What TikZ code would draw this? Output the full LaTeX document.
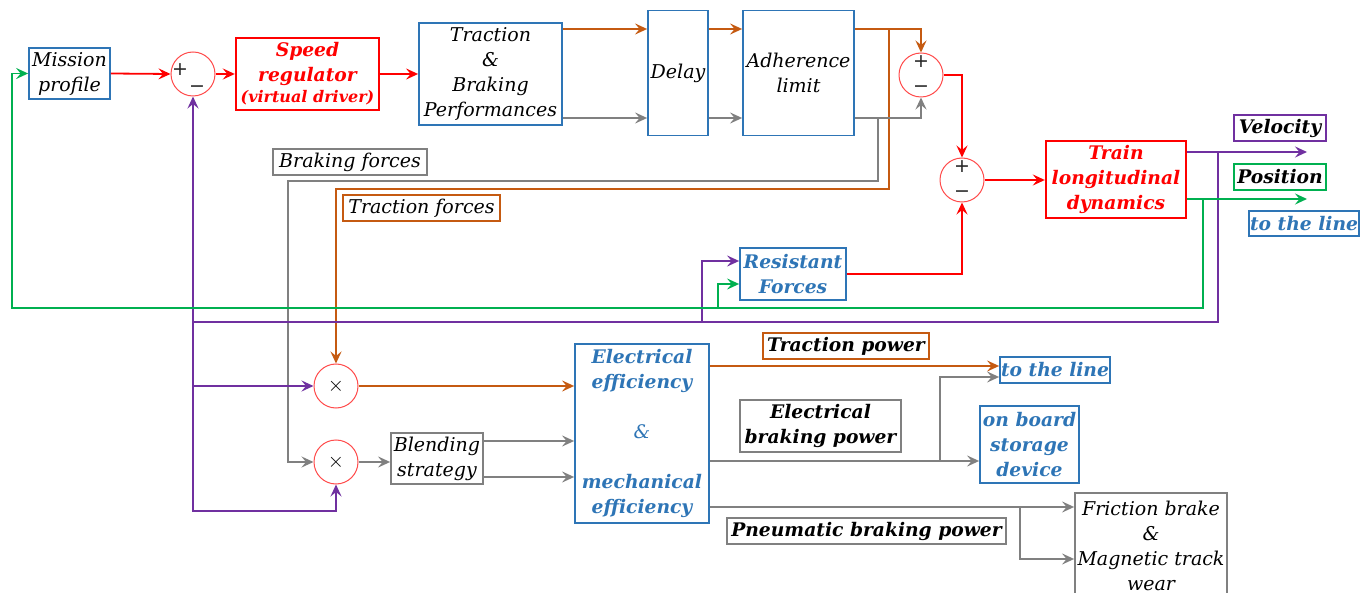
\documentclass[tikz,border=0pt]{standalone}
\usepackage{fontspec}
\setmainfont{DejaVu Serif}
\newfontfamily\signfont{DejaVu Sans}
\usetikzlibrary{arrows.meta,calc}
\definecolor{cblue}{HTML}{2E75B6}
\definecolor{cred}{HTML}{FF0000}
\definecolor{corange}{HTML}{C55A11}
\definecolor{cgray}{HTML}{808080}
\definecolor{cpurple}{HTML}{7030A0}
\definecolor{cgreen}{HTML}{00B050}
\definecolor{csum}{HTML}{FF4B4B}
\begin{document}
\begin{tikzpicture}[x=1pt,y=-1pt,
  base/.style={font=\fontsize{19}{25}\selectfont\itshape, align=center, inner sep=0pt, line width=1.8pt, fill=white},
  bfont/.style={font=\fontsize{18.7}{25}\selectfont\bfseries\itshape},
  bluebox/.style={base, draw=cblue},
  blueb/.style={base, draw=cblue, text=cblue, bfont},
  redbox/.style={base, draw=cred, line width=2.4pt, text=cred, bfont},
  graybox/.style={base, draw=cgray},
  grayb/.style={base, draw=cgray, bfont},
  orangebox/.style={base, draw=corange},
  orangeb/.style={base, draw=corange, bfont},
  purpleb/.style={base, draw=cpurple, bfont},
  greenb/.style={base, draw=cgreen, bfont},
  sumc/.style={circle, draw=csum, line width=1pt, minimum size=44pt, inner sep=0pt, fill=white, font=\fontsize{22}{24}\selectfont},
  sgn/.style={inner sep=0pt, font=\signfont\fontsize{19}{21}\selectfont, text=black!85},
  conn/.style={line width=1.8pt, -{Stealth[length=12pt,width=11pt,inset=4.5pt]}},
  redl/.style={conn, draw=cred},
  orl/.style={conn, draw=corange},
  grl/.style={conn, draw=cgray},
  pul/.style={conn, draw=cpurple},
  gnl/.style={conn, draw=cgreen}
]
\path[use as bounding box, fill=white] (0,0) rectangle (1360,593);

% helper coordinates
\coordinate (yo) at (0,29);
\coordinate (yg) at (0,118);
\coordinate (xob) at (889,0);
\coordinate (xgb) at (878,0);
\coordinate (yob) at (0,189);
\coordinate (ygb) at (0,181);
\coordinate (xg2) at (288,0);
\coordinate (yv) at (0,152);
\coordinate (yp) at (0,199);
\coordinate (vend) at (1307,152);
\coordinate (pend) at (1307,199);
\coordinate (xgr) at (1203,0);
\coordinate (xpu) at (1218,0);
\coordinate (ygr) at (0,308);
\coordinate (ypu) at (0,322);
\coordinate (xl) at (12,0);
\coordinate (xpb) at (702,0);
\coordinate (xgbr) at (718,0);
\coordinate (ypr) at (0,261);
\coordinate (ygr2) at (0,284);
\coordinate (ybot) at (0,511);
\coordinate (yb1) at (0,441);
\coordinate (yb2) at (0,477);
\coordinate (yo2) at (0,366);
\coordinate (ye) at (0,461);
\coordinate (xe) at (940,0);
\coordinate (yl) at (0,377);
\coordinate (ypn) at (0,507);
\coordinate (xp) at (1020,0);
\coordinate (yf) at (0,559);

% nodes
\node[bluebox, minimum width=81pt, minimum height=51pt] (mission) at (69.5,73.5) {Mission\\profile};
\node[sumc] (s1) at (193,74) {};
\node[sgn] (s1p) at (180,70) {+};
\node[sgn] (s1m) at (197,89) {−};
\node[redbox, minimum width=143pt, minimum height=72pt] (speed) at (307.5,74) {Speed\\regulator\\[-4pt]{\fontsize{16}{18}\selectfont(virtual driver)}};
\node[bluebox, minimum width=143pt, minimum height=102pt] (tbp) at (490.5,74) {Traction\\\&\\Braking\\Performances};
\node[bluebox, minimum width=60pt, minimum height=125pt] (delay) at (678,73) {Delay};
\node[bluebox, minimum width=111pt, minimum height=125pt] (adh) at (798.5,73) {Adherence\\limit};
\node[sumc] (s2) at (921,75) {};
\node[sgn] (s2p) at (921,62) {+};
\node[sgn] (s2m) at (921,89) {−};
\node[sumc] (s3) at (962,180) {};
\node[sgn] (s3p) at (962,167) {+};
\node[sgn] (s3m) at (962,194) {−};
\node[redbox, minimum width=140pt, minimum height=77pt] (train) at (1116,179.5) {Train\\longitudinal\\dynamics};
\node[purpleb, minimum width=92pt, minimum height=26pt] (vel) at (1280,128) {Velocity};
\node[greenb, minimum width=92pt, minimum height=26pt] (pos) at (1280,177) {Position};
\node[blueb, minimum width=110pt, minimum height=25pt] (line1) at (1304,223.5) {to the line};
\node[blueb, minimum width=106pt, minimum height=52pt] (resist) at (793,274) {Resistant\\Forces};
\node[graybox, minimum width=154pt, minimum height=26pt] (brk) at (350,162) {Braking forces};
\node[orangebox, minimum width=157pt, minimum height=26pt] (trf) at (421.5,208) {Traction forces};
\node[sumc] (m1) at (336,386) {$\times$};
\node[sumc] (m2) at (336,462) {$\times$};
\node[graybox, minimum width=92pt, minimum height=51pt] (blend) at (437,458.5) {Blending\\strategy};
\node[blueb, minimum width=134pt, minimum height=179pt] (ee) at (642,433.5) {Electrical\\efficiency\\[25pt]{\mdseries\&}\\[25pt]mechanical\\efficiency};
\node[orangeb, minimum width=166pt, minimum height=26pt] (tp) at (846,346) {Traction power};
\node[blueb, minimum width=110pt, minimum height=26pt] (line2) at (1055,370) {to the line};
\node[grayb, minimum width=161pt, minimum height=52pt] (ebp) at (820.5,426) {Electrical\\braking power};
\node[blueb, minimum width=99pt, minimum height=77pt] (obs) at (1029.5,444.5) {on board\\storage\\device};
\node[grayb, minimum width=279pt, minimum height=26pt] (pbp) at (866.5,531) {Pneumatic braking power};
\node[graybox, minimum width=152pt, minimum height=106pt] (fric) at (1151,546) {Friction brake\\\&\\Magnetic track\\wear};

% red connectors
\draw[redl] (mission.east) -- (s1.west);
\draw[redl] (s1.east) -- (speed.west);
\draw[redl] (speed.east) -- (tbp.west);
\draw[redl] (s2.east) -| (s3.north);
\draw[redl] (resist.east) -| (s3.south);
\draw[redl] (s3.east) -- (s3.east -| train.west);

% orange connectors
\draw[orl] (tbp.east |- yo) -- (delay.west |- yo);
\draw[orl] (delay.east |- yo) -- (adh.west |- yo);
\draw[orl] (adh.east |- yo) -| (s2.north);
\draw[orl] (xob |- yo) |- (m1.north |- yob) -- (m1.north);
\draw[orl] (m1.east) -- (ee.west |- m1.east);
\draw[orl] (ee.east |- yo2) -- (line2.west |- yo2);

% gray connectors
\draw[grl] (tbp.east |- yg) -- (delay.west |- yg);
\draw[grl] (delay.east |- yg) -- (adh.west |- yg);
\draw[grl] (adh.east |- yg) -| (s2.south);
\draw[grl] (xgb |- yg) |- (xg2 |- ygb) |- (m2.west);
\draw[grl] (m2.east) -- (blend.west |- m2.east);
\draw[grl] (blend.east |- yb1) -- (ee.west |- yb1);
\draw[grl] (blend.east |- yb2) -- (ee.west |- yb2);
\draw[grl] (ee.east |- ye) -- (obs.west |- ye);
\draw[grl] (xe |- ye) |- (line2.west |- yl);
\draw[grl] (ee.east |- ypn) -- (fric.west |- ypn);
\draw[grl] (xp |- ypn) |- (fric.west |- yf);

% purple connectors
\draw[pul] (train.east |- yv) -- (vend);
\draw[pul] (xpu |- yv) |- (s1.south |- ypu) -- (s1.south);
\draw[pul] (s1.south |- ypu) |- (m2.south |- ybot) -- (m2.south);
\draw[pul] (s1.south |- m1.west) -- (m1.west);
\draw[pul] (xpb |- ypu) |- (resist.west |- ypr);

% green connectors
\draw[gnl] (train.east |- yp) -- (pend);
\draw[gnl] (xgr |- yp) |- (xl |- ygr) |- (mission.west);
\draw[gnl] (xgbr |- ygr) |- (resist.west |- ygr2);
\end{tikzpicture}
\end{document}
